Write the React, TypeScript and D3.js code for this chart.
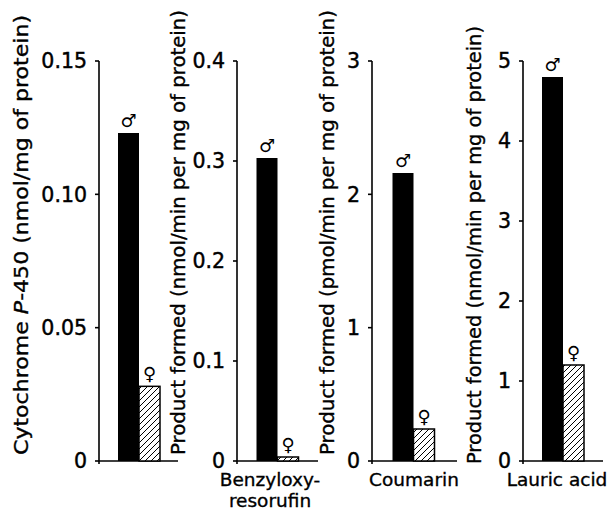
import React from "react";
import * as d3 from "d3";

// ---- data ----
const sexes = ["male", "female"];
const cytochromeP450 = [0.123, 0.028];
const benzyloxyresorufin = [0.303, 0.004];
const coumarin = [2.16, 0.24];
const lauricAcid = [4.8, 1.2];

const cytTicks = [0, 0.05, 0.1, 0.15];
const cytTickLabels = ["0", "0.05", "0.10", "0.15"];
const benzTicks = [0, 0.1, 0.2, 0.3, 0.4];
const benzTickLabels = ["0", "0.1", "0.2", "0.3", "0.4"];
const coumTicks = [0, 1, 2, 3];
const coumTickLabels = ["0", "1", "2", "3"];
const lauricTicks = [0, 1, 2, 3, 4, 5];
const lauricTickLabels = ["0", "1", "2", "3", "4", "5"];

const yTitles = [
  "Cytochrome P-450 (nmol/mg of protein)",
  "Product formed (nmol/min per mg of protein)",
  "Product formed (pmol/min per mg of protein)",
  "Product formed (nmol/min per mg of protein)",
];
const categoryLabels = [[], ["Benzyloxy-", "resorufin"], ["Coumarin"], ["Lauric acid"]];
const sexSymbols = ["\u2642", "\u2640"];

// ---- layout ----
const W = 613;
const H = 512;
const yTop = 61;
const yBottom = 461;
const FONT = "'DejaVu Sans', Verdana, sans-serif";

const panels = [
  { values: cytochromeP450, max: 0.15, ticks: cytTicks, tickLabels: cytTickLabels, axisX: 99, barX: 118, endX: 178, titleX: 21, titleY0: 15, titleY1: 455, catX: 0 },
  { values: benzyloxyresorufin, max: 0.4, ticks: benzTicks, tickLabels: benzTickLabels, axisX: 237, barX: 256.5, endX: 318, titleX: 178, titleY0: 10, titleY1: 455, catX: 270 },
  { values: coumarin, max: 3, ticks: coumTicks, tickLabels: coumTickLabels, axisX: 372, barX: 392.5, endX: 457, titleX: 327, titleY0: 10, titleY1: 455, catX: 414 },
  { values: lauricAcid, max: 5, ticks: lauricTicks, tickLabels: lauricTickLabels, axisX: 523, barX: 542, endX: 603, titleX: 474, titleY0: 26, titleY1: 464, catX: 557 },
];

function Panel({ p, i }: { p: any; i: number }) {
  const y = d3.scaleLinear().domain([0, p.max]).range([yBottom, yTop]);
  const x = d3.scaleBand().domain(sexes).range([p.barX, p.barX + 42]).paddingInner(0);
  const title = yTitles[i];
  const titleLen = p.titleY1 - p.titleY0;
  const titleCy = (p.titleY0 + p.titleY1) / 2;
  const pIdx = title.indexOf("P-450");
  return (
    <g>
      {/* axis */}
      <line x1={p.axisX} x2={p.axisX} y1={y(p.max)} y2={yBottom + 3} stroke="#000" strokeWidth={1.6} />
      <line x1={p.axisX} x2={p.endX} y1={yBottom} y2={yBottom} stroke="#000" strokeWidth={1.6} />
      {p.ticks.map((t: number, k: number) => (
        <g key={k}>
          <line x1={p.axisX - 4} x2={p.axisX} y1={y(t)} y2={y(t)} stroke="#000" strokeWidth={1.6} />
          <text x={p.axisX - 12} y={y(t)} dy="0.36em" textAnchor="end" fontSize={20.5} fontFamily={FONT} fill="#000" stroke="#000" strokeWidth={0.45}>
            {p.tickLabels[k]}
          </text>
        </g>
      ))}
      {/* bars */}
      {sexes.map((s, k) => {
        const v = p.values[k];
        const bx = x(s) as number;
        const bw = x.bandwidth();
        return (
          <g key={s}>
            <rect
              x={bx}
              y={y(v)}
              width={bw}
              height={yBottom - y(v)}
              fill={k === 0 ? "#000" : "url(#hatch)"}
              stroke="#000"
              strokeWidth={k === 0 ? 0 : 1.5}
            />
            <text x={bx + bw / 2} y={y(v) - 6} textAnchor="middle" fontSize={18} fontFamily="'DejaVu Sans', sans-serif" fill="#000">
              {sexSymbols[k]}
            </text>
          </g>
        );
      })}
      {/* y title */}
      <text
        transform={`translate(${p.titleX},${titleCy}) rotate(-90)`}
        textAnchor="middle"
        dominantBaseline="central"
        fontSize={19.5}
        fontFamily={FONT}
        fill="#000"
        stroke="#000"
        strokeWidth={0.35}
        textLength={titleLen}
        lengthAdjust="spacingAndGlyphs"
      >
        {pIdx >= 0 ? (
          <>
            <tspan>{title.slice(0, pIdx)}</tspan>
            <tspan fontStyle="italic">P</tspan>
            <tspan>{title.slice(pIdx + 1)}</tspan>
          </>
        ) : (
          title
        )}
      </text>
      {/* category labels */}
      {categoryLabels[i].map((c, k) => (
        <text key={k} x={p.catX} y={486 + k * 21} textAnchor="middle" fontSize={18.5} fontFamily={FONT} fill="#000" stroke="#000" strokeWidth={0.35}>
          {c}
        </text>
      ))}
    </g>
  );
}

export default function App() {
  return (
    <svg width={W} height={H} style={{ position: "absolute", left: 0, top: 0, background: "#fff" }}>
      <defs>
        <pattern id="hatch" patternUnits="userSpaceOnUse" width={6} height={6}>
          <rect width={6} height={6} fill="#fff" />
          <path d="M-1,1 l2,-2 M0,6 l6,-6 M5,7 l2,-2" stroke="#000" strokeWidth={1} />
        </pattern>
      </defs>
      <rect width={W} height={H} fill="#fff" />
      {panels.map((p, i) => (
        <Panel key={i} p={p} i={i} />
      ))}
    </svg>
  );
}
